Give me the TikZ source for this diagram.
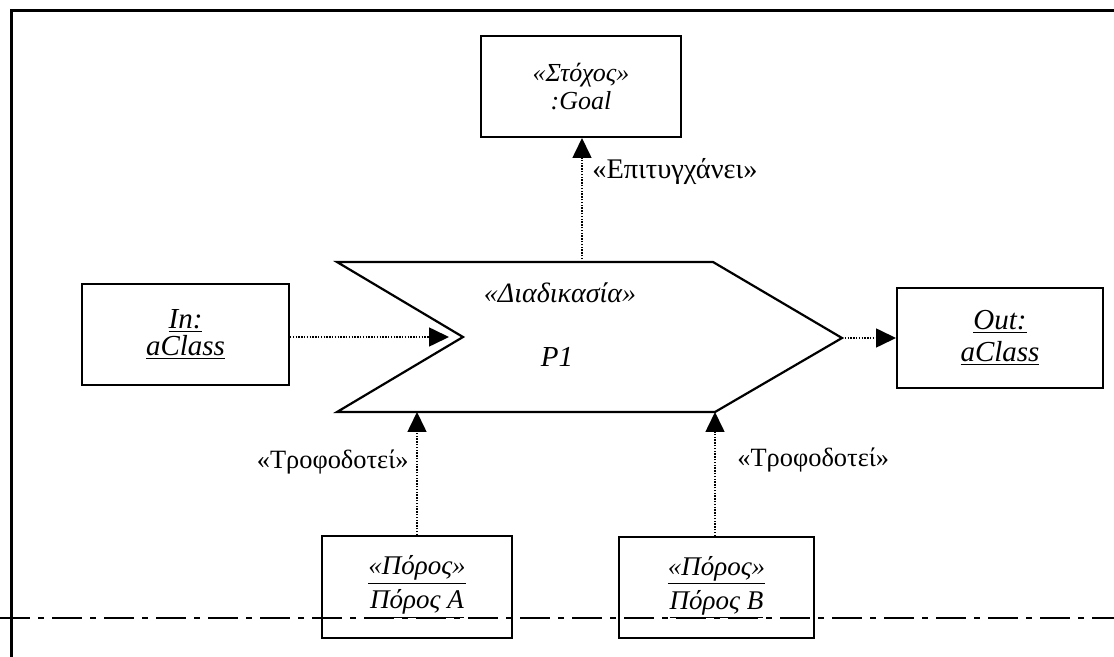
\documentclass[tikz,border=0pt]{standalone}
\usepackage{fontspec}
\setmainfont{Liberation Serif}
\usetikzlibrary{arrows.meta}

\tikzset{
  umlbox/.style={draw, line width=1pt, inner sep=0pt, align=center},
  dep/.style={line width=0.8pt, dash pattern=on 0.7pt off 0.7pt,
    -{Triangle[length=10pt,width=9.5pt]}},
  deplabel/.style={font=\fontsize{13.2}{15}\selectfont, inner sep=0pt},
  proc/.style={line width=1.1pt, line join=miter},
  frameline/.style={line width=1.5pt},
  cutline/.style={line width=0.6pt, dash pattern=on 15pt off 4pt on 3pt off 4pt},
}

\begin{document}
\begin{tikzpicture}[x=0.5pt, y=-0.5pt]
  \useasboundingbox (0,0) rectangle (1114,657);

  % sheet border and cutting line
  \draw[frameline] (1114,11) -- (11,11) -- (11,657);
  \draw[cutline] (0,618) -- (1114,618);

  % object boxes
  \node[umlbox, minimum width=100pt, minimum height=50.5pt,
        font=\fontsize{13}{14}\selectfont\itshape] (goal) at (581,86.5)
    {«Στόχος»\\ :Goal};
  \node[umlbox, minimum width=103.5pt, minimum height=50.5pt,
        font=\fontsize{14.5}{13.5}\selectfont\itshape] (in) at (185.5,334.5)
    {\underline{In:}\\ \underline{aClass}};
  \node[umlbox, minimum width=103pt, minimum height=50pt,
        font=\fontsize{14.5}{16}\selectfont\itshape] (out) at (1000,338)
    {\underline{Out:}\\ \underline{aClass}};
  \node[umlbox, minimum width=95pt, minimum height=51pt,
        font=\fontsize{13.5}{17}\selectfont\itshape] (resA) at (417,587)
    {\underline{«Πόρος»}\\ \underline{Πόρος A}};
  \node[umlbox, minimum width=97.5pt, minimum height=50.5pt,
        font=\fontsize{13.5}{17}\selectfont\itshape] (resB) at (716.5,587.5)
    {\underline{«Πόρος»}\\ \underline{Πόρος B}};

  % process chevron
  \coordinate (pTL) at (337,262);
  \coordinate (pNotch) at (463,337);
  \coordinate (pBL) at (337,412);
  \coordinate (pBR) at (715,412);
  \coordinate (pTip) at (842,338);
  \coordinate (pTR) at (713,262);
  \draw[proc] (pTL) -- (pNotch) -- (pBL) -- (pBR) -- (pTip) -- (pTR) -- cycle;
  \node[font=\fontsize{14}{16}\selectfont\itshape] (stereo) at (560,293) {«Διαδικασία»};
  \node[font=\fontsize{14.5}{16}\selectfont\itshape] (pname) at (557,357) {P1};

  % connection points on the process outline
  \coordinate (pIn) at (449,337);
  \coordinate (pTop) at (582,262);
  \coordinate (pBotA) at (417,412);
  \coordinate (pBotB) at (715,412);

  % dependencies
  \draw[dep] (in.east |- pIn) -- (pIn);
  \draw[dep] (pTip) -- (out.west |- pTip);
  \draw[dep] (pTop) -- (pTop |- goal.south);
  \draw[dep] (resA.north) -- (pBotA);
  \draw[dep] (resB.north -| pBotB) -- (pBotB);

  % dependency labels
  \node[deplabel, font=\fontsize{14.2}{15}\selectfont, anchor=west] (lGoal) at (592,172) {«Επιτυγχάνει»};
  \node[deplabel, anchor=east] (lA) at (409,462) {«Τροφοδοτεί»};
  \node[deplabel, anchor=west] (lB) at (737,460) {«Τροφοδοτεί»};
\end{tikzpicture}
\end{document}
